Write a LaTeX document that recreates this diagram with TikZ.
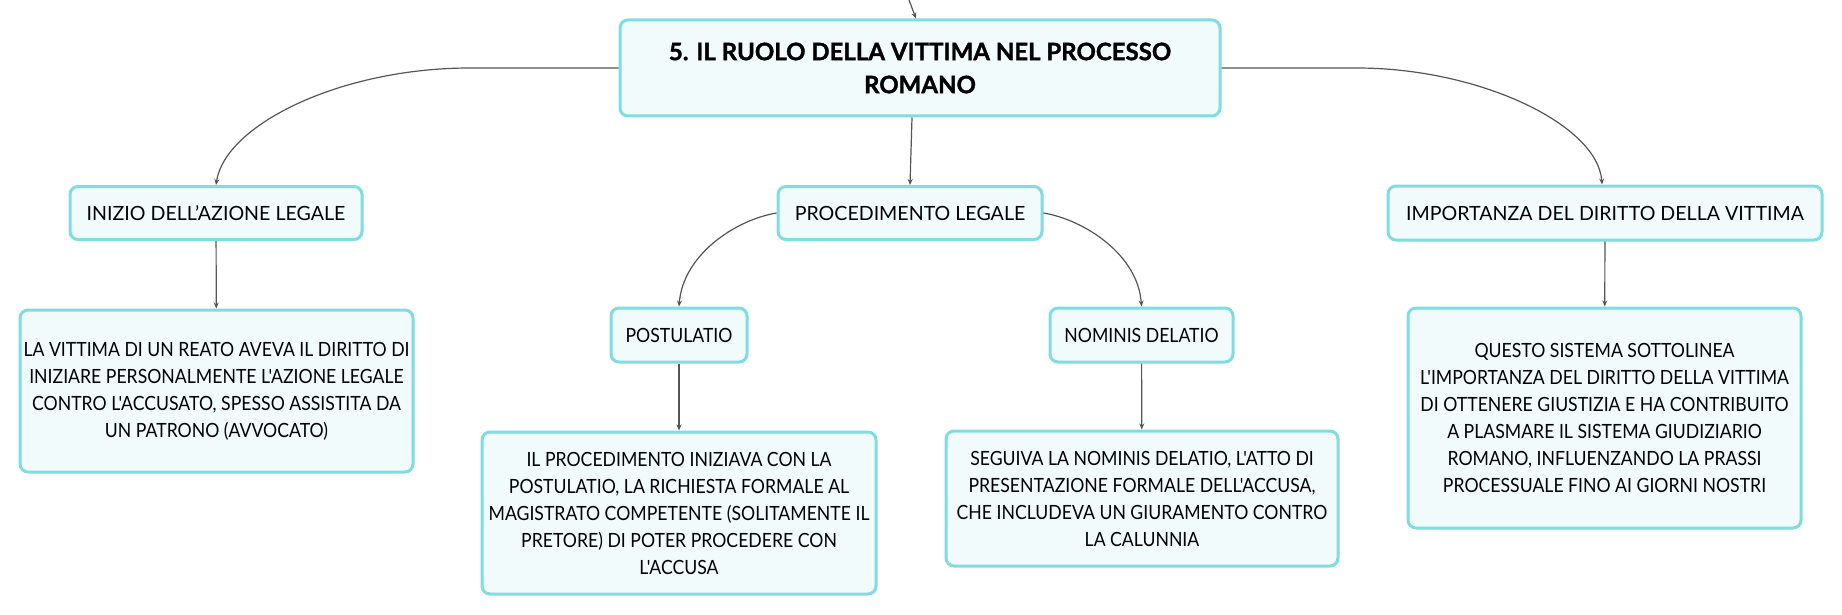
\documentclass[tikz,border=0pt]{standalone}
\usepackage{fontspec}
\setmainfont{Lato}
\newfontfamily\detailfont[FakeStretch=0.9]{Lato}
\newfontfamily\titlefont[BoldFeatures={FakeBold=1.3}]{Lato}
\usetikzlibrary{arrows.meta}
\definecolor{boxline}{HTML}{7FDDE2}
\definecolor{boxfill}{HTML}{F1FBFC}
\definecolor{linkgray}{HTML}{555555}

\begin{document}
\begin{tikzpicture}[x=0.5pt, y=-0.5pt,
    box/.style={draw=boxline, fill=boxfill, line width=1.5pt, rounded corners=4pt,
        inner sep=0pt, align=center, font=\fontsize{9.8}{13.3}\selectfont},
    detail/.style={box, font=\detailfont\fontsize{9.8}{13.5}\selectfont},
    link/.style={draw=linkgray, line width=0.6pt, -{Stealth[length=3pt, width=2.5pt]}}]
    \useasboundingbox (0,0) rectangle (1842,615);

    % Main topic
    \node[box, minimum width=300pt, minimum height=48pt, font=\titlefont\fontsize{12}{16.5}\selectfont\bfseries]
        (root) at (920,68) {5. IL RUOLO DELLA VITTIMA NEL PROCESSO\\ROMANO};

    % Branches
    \node[box, minimum width=146pt, minimum height=26.5pt] (inizio) at (216,213) {INIZIO DELL'AZIONE LEGALE};
    \node[box, minimum width=132pt, minimum height=26.5pt] (proc) at (910,213) {PROCEDIMENTO LEGALE};
    \node[box, minimum width=217pt, minimum height=27pt] (impo) at (1605,213) {IMPORTANZA DEL DIRITTO DELLA VITTIMA};
    \node[box, minimum width=68pt, minimum height=27pt, font=\detailfont\fontsize{9.8}{13.3}\selectfont] (post) at (679,335) {POSTULATIO};
    \node[box, minimum width=91.5pt, minimum height=27pt, font=\detailfont\fontsize{9.8}{13.3}\selectfont] (nomi) at (1141.5,335) {NOMINIS DELATIO};

    % Texts
    \node[detail, minimum width=196.5pt, minimum height=81pt] (inizioTxt) at (216.5,391)
        {LA VITTIMA DI UN REATO AVEVA IL DIRITTO DI\\INIZIARE PERSONALMENTE L'AZIONE LEGALE\\CONTRO L'ACCUSATO, SPESSO ASSISTITA DA\\UN PATRONO (AVVOCATO)};
    \node[detail, minimum width=197pt, minimum height=81pt] (postTxt) at (679,513)
        {IL PROCEDIMENTO INIZIAVA CON LA\\POSTULATIO, LA RICHIESTA FORMALE AL\\MAGISTRATO COMPETENTE (SOLITAMENTE IL\\PRETORE) DI POTER PROCEDERE CON\\L'ACCUSA};
    \node[detail, minimum width=196pt, minimum height=67.5pt] (nomiTxt) at (1142,498.5)
        {SEGUIVA LA NOMINIS DELATIO, L'ATTO DI\\PRESENTAZIONE FORMALE DELL'ACCUSA,\\CHE INCLUDEVA UN GIURAMENTO CONTRO\\LA CALUNNIA};
    \node[detail, minimum width=196.5pt, minimum height=110pt] (impoTxt) at (1604.5,418)
        {QUESTO SISTEMA SOTTOLINEA\\L'IMPORTANZA DEL DIRITTO DELLA VITTIMA\\DI OTTENERE GIUSTIZIA E HA CONTRIBUITO\\A PLASMARE IL SISTEMA GIUDIZIARIO\\ROMANO, INFLUENZANDO LA PRASSI\\PROCESSUALE FINO AI GIORNI NOSTRI};

    % Curved links
    \coordinate (up) at (909,0);
    \coordinate (lbend) at (470,68);
    \coordinate (rbend) at (1357,68);
    \draw[link] (up) -- ([xshift=-2pt]root.north);
    \draw[link] ([xshift=-4pt]root.south) -- (proc.north);
    \draw[link] (root.west) -- (lbend) .. controls (340,68) and (225,125) .. (inizio.north);
    \draw[link] (root.east) -- (rbend) .. controls (1480,68) and (1598,125) .. ([xshift=-1.5pt]impo.north);
    \draw[link] (proc.west) .. controls (735,220) and (683,255) .. (post.north);
    \draw[link] (proc.east) .. controls (1085,220) and (1138,255) .. (nomi.north);

    % Straight links
    \foreach \a/\b in {inizio/inizioTxt, post/postTxt, nomi/nomiTxt, impo/impoTxt}
        \draw[link] (\a) -- (\b);
\end{tikzpicture}
\end{document}
